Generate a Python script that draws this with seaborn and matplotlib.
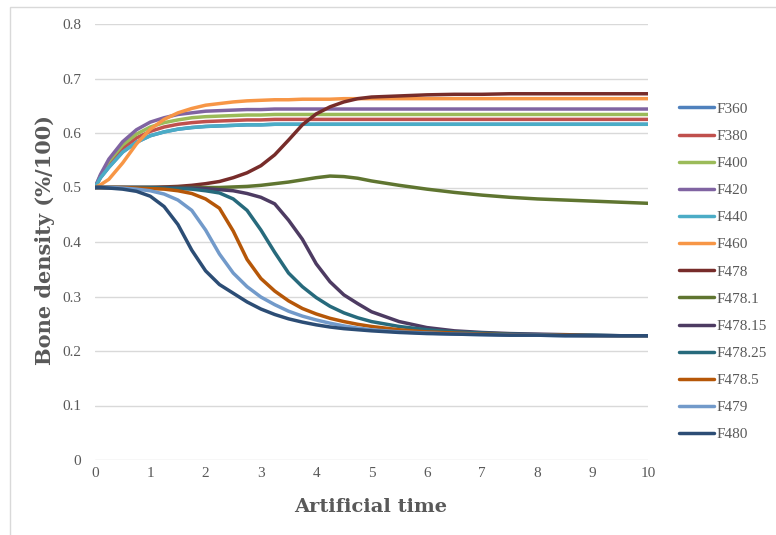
import pandas as pd
import seaborn as sns
import matplotlib.pyplot as plt
from matplotlib.patches import Rectangle

# Zeitachse (Artificial time)
t = [0, 0.1, 0.25, 0.5, 0.75, 1, 1.25, 1.5, 1.75, 2, 2.25, 2.5, 2.75, 3, 3.25, 3.5,
     3.75, 4, 4.25, 4.5, 4.75, 5, 5.5, 6, 6.5, 7, 7.5, 8, 8.5, 9, 9.5, 10]

f360 = [0.5, 0.518, 0.537, 0.565, 0.583, 0.595, 0.602, 0.607, 0.61, 0.612, 0.613, 0.614, 0.615, 0.615, 0.616, 0.616,
        0.616, 0.616, 0.616, 0.616, 0.616, 0.616, 0.616, 0.616, 0.616, 0.616, 0.616, 0.616, 0.616, 0.616, 0.616, 0.616]
f380 = [0.5, 0.52, 0.543, 0.572, 0.591, 0.603, 0.611, 0.616, 0.619, 0.621, 0.622, 0.623, 0.624, 0.624, 0.625, 0.625,
        0.625, 0.625, 0.625, 0.625, 0.625, 0.625, 0.625, 0.625, 0.625, 0.625, 0.625, 0.625, 0.625, 0.625, 0.625, 0.625]
f400 = [0.5, 0.522, 0.548, 0.578, 0.598, 0.611, 0.619, 0.624, 0.628, 0.63, 0.631, 0.632, 0.633, 0.633, 0.634, 0.634,
        0.634, 0.634, 0.634, 0.634, 0.634, 0.634, 0.634, 0.634, 0.634, 0.634, 0.634, 0.634, 0.634, 0.634, 0.634, 0.634]
f420 = [0.5, 0.524, 0.552, 0.584, 0.606, 0.62, 0.628, 0.634, 0.637, 0.64, 0.641, 0.642, 0.643, 0.643, 0.644, 0.644,
        0.644, 0.644, 0.644, 0.644, 0.644, 0.644, 0.644, 0.644, 0.644, 0.644, 0.644, 0.644, 0.644, 0.644, 0.644, 0.644]
f440 = [0.5, 0.518, 0.537, 0.565, 0.583, 0.595, 0.602, 0.607, 0.61, 0.612, 0.613, 0.614, 0.615, 0.615, 0.616, 0.616,
        0.616, 0.616, 0.616, 0.616, 0.616, 0.616, 0.616, 0.616, 0.616, 0.616, 0.616, 0.616, 0.616, 0.616, 0.616, 0.616]
f460 = [0.5, 0.505, 0.515, 0.545, 0.58, 0.607, 0.625, 0.637, 0.645, 0.651, 0.654, 0.657, 0.659, 0.66, 0.661, 0.661,
        0.662, 0.662, 0.662, 0.663, 0.663, 0.663, 0.663, 0.663, 0.663, 0.663, 0.663, 0.663, 0.663, 0.663, 0.663, 0.663]
f478 = [0.5, 0.5, 0.5, 0.5, 0.5, 0.5, 0.501, 0.502, 0.504, 0.507, 0.511, 0.518, 0.527, 0.54, 0.56, 0.587,
        0.615, 0.635, 0.648, 0.657, 0.663, 0.666, 0.668, 0.67, 0.671, 0.671, 0.672, 0.672, 0.672, 0.672, 0.672, 0.672]
f478_1 = [0.5, 0.5, 0.5, 0.5, 0.5, 0.5, 0.5, 0.5, 0.5, 0.5, 0.5, 0.501, 0.502, 0.504, 0.507, 0.51,
          0.514, 0.518, 0.521, 0.52, 0.517, 0.512, 0.504, 0.497, 0.491, 0.486, 0.482, 0.479, 0.477, 0.475, 0.473, 0.471]
f478_15 = [0.5, 0.5, 0.5, 0.5, 0.5, 0.5, 0.5, 0.499, 0.499, 0.498, 0.496, 0.494, 0.489, 0.482, 0.47, 0.44,
           0.405, 0.36, 0.327, 0.303, 0.287, 0.272, 0.254, 0.243, 0.237, 0.234, 0.232, 0.231, 0.23, 0.229, 0.228, 0.228]
f478_25 = [0.5, 0.5, 0.5, 0.5, 0.5, 0.5, 0.499, 0.498, 0.497, 0.494, 0.49, 0.479, 0.458, 0.422, 0.381, 0.343,
           0.318, 0.298, 0.282, 0.27, 0.261, 0.254, 0.245, 0.239, 0.235, 0.233, 0.231, 0.23, 0.229, 0.229, 0.228, 0.228]
f478_5 = [0.5, 0.5, 0.5, 0.5, 0.499, 0.498, 0.497, 0.494, 0.489, 0.479, 0.462, 0.42, 0.368, 0.333, 0.31, 0.292,
          0.278, 0.268, 0.26, 0.254, 0.249, 0.245, 0.239, 0.235, 0.233, 0.231, 0.23, 0.229, 0.229, 0.228, 0.228, 0.228]
f479 = [0.5, 0.5, 0.5, 0.499, 0.497, 0.494, 0.488, 0.477, 0.458, 0.422, 0.378, 0.343, 0.318, 0.299, 0.285, 0.273,
        0.264, 0.257, 0.251, 0.246, 0.242, 0.239, 0.235, 0.233, 0.231, 0.23, 0.229, 0.229, 0.228, 0.228, 0.228, 0.228]
f480 = [0.5, 0.5, 0.499, 0.497, 0.493, 0.484, 0.465, 0.432, 0.385, 0.347, 0.322, 0.306, 0.29, 0.277, 0.267, 0.259,
        0.253, 0.248, 0.244, 0.241, 0.239, 0.237, 0.234, 0.232, 0.231, 0.23, 0.229, 0.229, 0.228, 0.228, 0.228, 0.228]

names = ['F360', 'F380', 'F400', 'F420', 'F440', 'F460', 'F478', 'F478.1',
         'F478.15', 'F478.25', 'F478.5', 'F479', 'F480']
series = [f360, f380, f400, f420, f440, f460, f478, f478_1,
          f478_15, f478_25, f478_5, f479, f480]
colors = ['#4F81BD', '#C0504D', '#9BBB59', '#8064A2', '#4BACC6', '#F79646', '#772C2A',
          '#5F7530', '#4D3B62', '#276A7C', '#B65708', '#729ACA', '#2C4D75']

y_ticks = [0, 0.1, 0.2, 0.3, 0.4, 0.5, 0.6, 0.7, 0.8]
y_ticklabels = ['0', '0.1', '0.2', '0.3', '0.4', '0.5', '0.6', '0.7', '0.8']
x_ticks = [0, 1, 2, 3, 4, 5, 6, 7, 8, 9, 10]

# long format für seaborn
df = pd.concat([pd.DataFrame({'time': t, 'density': s, 'series': n}) for n, s in zip(names, series)],
               ignore_index=True)

sns.set_style('white')
plt.rcParams['font.family'] = ['Liberation Serif', 'DejaVu Serif']

grey = '#595959'
grid = '#D9D9D9'

fig = plt.figure(figsize=(7.76, 5.35), dpi=100)
ax = fig.add_axes([95 / 776, 75 / 535, 553 / 776, 436 / 535])

sns.lineplot(data=df, x='time', y='density', hue='series', hue_order=names,
             palette=dict(zip(names, colors)), linewidth=2.5, estimator=None, sort=False, ax=ax)

ax.set_xlim(0, 10)
ax.set_ylim(0, 0.8)
ax.set_xticks(x_ticks)
ax.set_yticks(y_ticks)
ax.set_yticklabels(y_ticklabels)
ax.tick_params(axis='both', length=0, labelsize=11, labelcolor=grey)
ax.tick_params(axis='y', pad=10)
ax.tick_params(axis='x', pad=5)
ax.yaxis.grid(True, color=grid, linewidth=1)
ax.xaxis.grid(False)
ax.set_axisbelow(True)
for side in ['top', 'right', 'left', 'bottom']:
    ax.spines[side].set_visible(False)

ax.set_xlabel('Artificial time', fontsize=14, fontweight='bold', color=grey, va='center',
              family='DejaVu Serif')
ax.set_ylabel('Bone density (%/100)', fontsize=15, fontweight='bold', color=grey, va='center',
              family='DejaVu Serif')
ax.xaxis.set_label_coords(0.499, -0.108)
ax.yaxis.set_label_coords(-0.0904, 0.505)

handles, labels = ax.get_legend_handles_labels()
ax.get_legend().remove()
for h in handles:
    h.set_linewidth(2.5)
fig.legend(handles, labels, loc='center left', bbox_to_anchor=(665 / 776, 0.492), frameon=False,
           handlelength=2.3, handletextpad=0.15, labelspacing=0.88, fontsize=11, labelcolor=grey)

# heller Rahmen ums Diagramm
fig.patches.append(Rectangle((10 / 776, -0.1), 1.2, 1 - 7 / 535 + 0.1, transform=fig.transFigure,
                             fill=False, edgecolor=grid, linewidth=1))

plt.savefig('out.png', dpi=100)
